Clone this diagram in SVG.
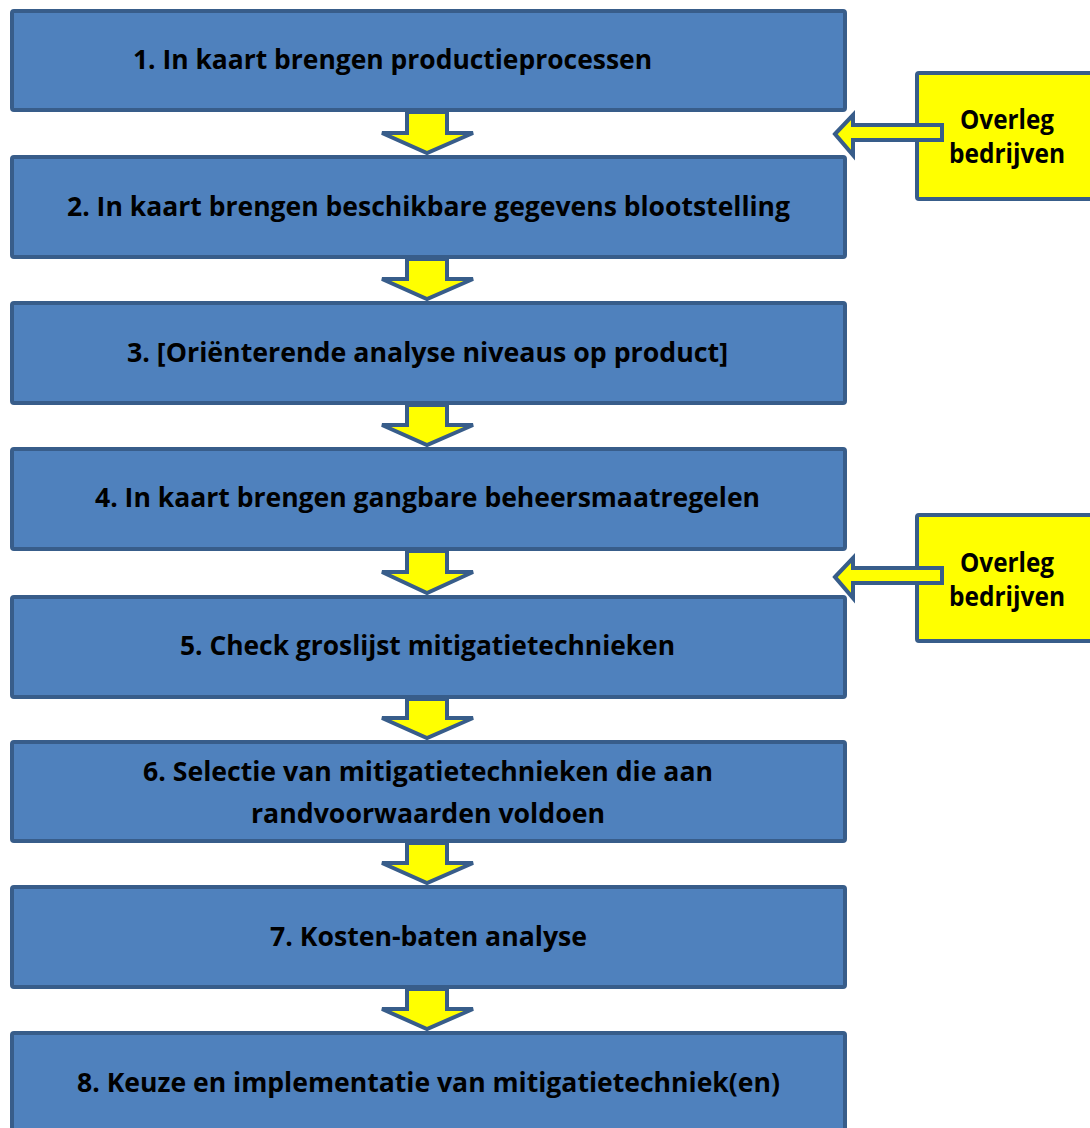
<svg xmlns="http://www.w3.org/2000/svg" width="1090" height="1128" viewBox="0 0 1090 1128">
<style>
.box{fill:#4f81bd;stroke:#385d8a;stroke-width:4}
.ybox{fill:#ffff00;stroke:#385d8a;stroke-width:4}
.arr{fill:#ffff00;stroke:#385d8a;stroke-width:4;stroke-linejoin:miter}
.t{font-family:"Open Sans","Liberation Sans",sans-serif;font-weight:bold;font-size:26px;fill:#000;text-anchor:middle}
</style>
<rect width="1090" height="1128" fill="#ffffff"/>
<g id="node1"><rect class="box" x="12" y="11" width="833" height="99" rx="2"/><text class="t" x="392.5" y="69" textLength="519" lengthAdjust="spacingAndGlyphs">1. In kaart brengen productieprocessen</text></g>
<g id="node2"><rect class="box" x="12" y="157" width="833" height="100" rx="2"/><text class="t" x="428.5" y="216" textLength="723" lengthAdjust="spacingAndGlyphs">2. In kaart brengen beschikbare gegevens blootstelling</text></g>
<g id="node3"><rect class="box" x="12" y="303" width="833" height="100" rx="2"/><text class="t" x="427.5" y="362" textLength="601" lengthAdjust="spacingAndGlyphs">3. [Oriënterende analyse niveaus op product]</text></g>
<g id="node4"><rect class="box" x="12" y="449" width="833" height="100" rx="2"/><text class="t" x="427.5" y="507" textLength="665" lengthAdjust="spacingAndGlyphs">4. In kaart brengen gangbare beheersmaatregelen</text></g>
<g id="node5"><rect class="box" x="12" y="597" width="833" height="100" rx="2"/><text class="t" x="427.5" y="655" textLength="495" lengthAdjust="spacingAndGlyphs">5. Check groslijst mitigatietechnieken</text></g>
<g id="node6"><rect class="box" x="12" y="742" width="833" height="99" rx="2"/><text class="t" x="428" y="781" textLength="570" lengthAdjust="spacingAndGlyphs">6. Selectie van mitigatietechnieken die aan</text><text class="t" x="428" y="823" textLength="354" lengthAdjust="spacingAndGlyphs">randvoorwaarden voldoen</text></g>
<g id="node7"><rect class="box" x="12" y="887" width="833" height="100" rx="2"/><text class="t" x="428.5" y="946" textLength="317" lengthAdjust="spacingAndGlyphs">7. Kosten-baten analyse</text></g>
<g id="node8"><rect class="box" x="12" y="1033" width="833" height="110" rx="2"/><text class="t" x="428.5" y="1092" textLength="703" lengthAdjust="spacingAndGlyphs">8. Keuze en implementatie van mitigatietechniek(en)</text></g>
<g id="overleg1"><rect class="ybox" x="917" y="73" width="190" height="126" rx="2"/><text class="t" x="1007" y="129" textLength="94" lengthAdjust="spacingAndGlyphs">Overleg</text><text class="t" x="1007" y="163" textLength="116" lengthAdjust="spacingAndGlyphs">bedrijven</text></g>
<g id="overleg2"><rect class="ybox" x="917" y="515" width="190" height="126" rx="2"/><text class="t" x="1007" y="572" textLength="94" lengthAdjust="spacingAndGlyphs">Overleg</text><text class="t" x="1007" y="606" textLength="116" lengthAdjust="spacingAndGlyphs">bedrijven</text></g>
<g id="connectors">
<polygon class="arr" points="407,112 447,112 447,133 473,133 427,153 382,133 407,133"/>
<polygon class="arr" points="407,259 447,259 447,279 473,279 427,299 382,279 407,279"/>
<polygon class="arr" points="407,405 447,405 447,425 473,425 427,445 382,425 407,425"/>
<polygon class="arr" points="407,551 447,551 447,572 473,572 427,593 382,572 407,572"/>
<polygon class="arr" points="407,699 447,699 447,718 473,718 427,738 382,718 407,718"/>
<polygon class="arr" points="407,843 447,843 447,863 473,863 427,883 382,863 407,863"/>
<polygon class="arr" points="407,989 447,989 447,1009 473,1009 427,1029 382,1009 407,1009"/>
<polygon class="arr" points="835,134 853,115 853,125 942,125 942,140 853,140 853,155"/>
<polygon class="arr" points="835,577 853,558 853,568 942,568 942,583 853,583 853,598"/>
</g>
</svg>
